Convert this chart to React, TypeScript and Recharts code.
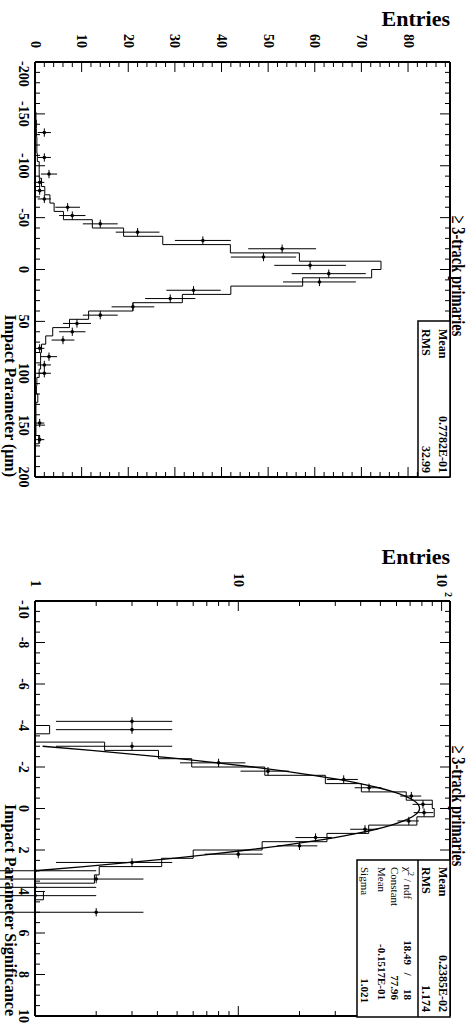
import { ComposedChart, ErrorBar, Line, Scatter, XAxis, YAxis } from 'recharts'

const FONT = '"Liberation Serif", "Times New Roman", serif'

// upper pad: impact parameter in um, 8 um bins over [-200, 200]
const IP_FIRST_EDGE = -200
const IP_LAST_EDGE = 200
const IP_BIN_WIDTH = 8
// reference histogram (step line), one value per bin
const IP_HIST = [
  0, 0, 0, 0, 0.1, 0.1, 0.2, 0.3, 0.3, 0.4,
  0.4, 0.5, 0.9, 0.9, 1.4, 2.1, 3.2, 4.1, 6.1, 12.3,
  19.0, 27.4, 41.9, 56.7, 74.2, 72.2, 57.4, 42.0, 31.6, 21.0,
  11.5, 7.4, 3.8, 2.3, 1.4, 1.2, 1.2, 0.9, 0.4, 0.3,
  0.6, 0.2, 0.2, 0.2, 0.2, 0.8, 0.1, 0.1, 0, 0,
]
// data points (bin centre, entries)
const IP_POINT_X = [-132, -108, -92, -84, -76, -68, -60, -52, -44, -36, -28, -20, -12, -4, 4, 12, 20, 28, 36, 44, 52, 60, 68, 76, 84, 92, 100, 148, 164]
const IP_POINT_N = [2, 2, 3, 1, 1, 2, 7, 8, 14, 22, 36, 53, 49, 59, 63, 61, 34, 29, 21, 14, 9, 8, 6, 1, 3, 2, 2, 1, 1]
const IP_TICKS = Array.from({ length: 41 }, (_, i) => -200 + i * 10)
const ENTRY_TICKS = Array.from({ length: 45 }, (_, i) => i * 2)

// lower pad: impact parameter significance, 0.4 bins over [-10, 10], log entries
const SIG_FIRST_EDGE = -10
const SIG_BIN_WIDTH = 0.4
const SIG_HIST = [
  0, 0, 0, 0, 0, 0, 0, 0, 0, 0,
  0, 0, 0, 0, 0, 1.18, 0, 2.2, 4.05, 5.9,
  13.5, 26.8, 40.3, 67, 90, 92, 75.6, 43.8, 27.3, 13.1,
  6.0, 4.2, 2.07, 1.96, 0, 1.1, 0, 0, 0, 0,
  0, 0, 0, 0, 0, 0, 0, 0, 0, 0,
]
const SIG_POINT_X = [-4.2, -3.8, -3.0, -2.2, -1.8, -1.4, -1.0, -0.6, -0.2, 0.2, 0.6, 1.0, 1.4, 1.8, 2.2, 2.6, 3.0, 3.4, 3.8, 4.2, 5.0]
const SIG_POINT_N = [3, 3, 3, 8, 14, 33, 44, 71, 81, 82, 69, 42, 24, 20, 10, 3, 1, 2, 1, 1, 2]
// gaussian fit curve as drawn
const FIT_X = [-3.0, -2.8, -2.6, -2.4, -2.2, -2.0, -1.8, -1.6, -1.4, -1.2, -1.0, -0.8, -0.6, -0.4, -0.2, 0, 0.2, 0.4, 0.6, 0.8, 1.0, 1.2, 1.4, 1.6, 1.8, 2.0, 2.2, 2.4, 2.6, 2.8, 3.0]
const FIT_Y = [1.09, 1.89, 3.16, 5.09, 7.9, 11.78, 16.91, 23.37, 31.07, 39.75, 48.95, 58.01, 66.16, 72.61, 76.69, 77.95, 76.25, 71.78, 65.03, 56.69, 47.56, 38.4, 29.85, 22.31, 16.06, 11.12, 7.41, 4.76, 2.93, 1.74, 1.0]
const SIG_TICKS = Array.from({ length: 41 }, (_, i) => -10 + i * 0.5)
const LOG_TICKS = [1, 2, 3, 4, 5, 6, 7, 8, 9, 10, 20, 30, 40, 50, 60, 70, 80, 90, 100]
const LOG_FLOOR = 1

const ipHistLine = [
  ...IP_HIST.map((n, i) => ({ x: IP_FIRST_EDGE + i * IP_BIN_WIDTH, y: n })),
  { x: IP_LAST_EDGE, y: IP_HIST[IP_HIST.length - 1] },
]
const ipPoints = IP_POINT_X.map((x, i) => ({
  x,
  y: IP_POINT_N[i],
  ex: IP_BIN_WIDTH / 2,
  ey: Math.sqrt(IP_POINT_N[i]),
}))

const sigHistLine = [
  ...SIG_HIST.map((n, i) => ({ x: SIG_FIRST_EDGE + i * SIG_BIN_WIDTH, y: Math.max(n, LOG_FLOOR) })),
  { x: 10, y: LOG_FLOOR },
]
const sigPoints = SIG_POINT_X.map((x, i) => {
  const n = SIG_POINT_N[i]
  const e = Math.sqrt(n)
  // log axis: keep the lower end positive, the frame clips it anyway
  return { x, y: n, ex: SIG_BIN_WIDTH / 2, ey: [Math.min(e, n - 0.001), e] }
})
const fitLine = FIT_X.map((x, i) => ({ x, y: FIT_Y[i] }))

const FRAME = { stroke: '#000', strokeWidth: 2 }
const LABEL = { fontFamily: FONT, fontWeight: 700, fontSize: 14 } as const

type TickArgs = { x?: number; y?: number; payload?: { value: number } }

// first label of the axis starts at its tick instead of hanging off the frame
function bottomTick(isMajor: (v: number) => boolean, first: number) {
  return ({ x = 0, y = 0, payload }: TickArgs) => {
    const v = payload?.value ?? 0
    const major = isMajor(v)
    const isFirst = Math.abs(v - first) < 1e-9
    return (
      <g>
        <line x1={x} x2={x} y1={y} y2={y - (major ? 10 : 5)} stroke="#000" />
        {major && (
          <text x={isFirst ? x - 1 : x} y={y + 16} textAnchor={isFirst ? 'start' : 'middle'} style={LABEL}>
            {Math.round(v)}
          </text>
        )}
      </g>
    )
  }
}

function topTick(isMajor: (v: number) => boolean) {
  return ({ x = 0, y = 0, payload }: TickArgs) => {
    const major = isMajor(payload?.value ?? 0)
    return <line x1={x} x2={x} y1={y} y2={y + (major ? 10 : 5)} stroke="#000" />
  }
}

function rightTick(isMajor: (v: number) => boolean) {
  return ({ x = 0, y = 0, payload }: TickArgs) => {
    const major = isMajor(payload?.value ?? 0)
    return <line x1={x} x2={x - (major ? 10 : 5)} y1={y} y2={y} stroke="#000" />
  }
}

function entriesTick({ x = 0, y = 0, payload }: TickArgs) {
  const v = payload?.value ?? 0
  const major = v % 10 === 0
  return (
    <g>
      <line x1={x} x2={x + (major ? 10 : 5)} y1={y} y2={y} stroke="#000" />
      {major && (
        <text x={x - 14} y={y} textAnchor="end" dominantBaseline="central" style={LABEL}>
          {v}
        </text>
      )}
    </g>
  )
}

const isDecade = (v: number) => v === 1 || v === 10 || v === 100

function logTick({ x = 0, y = 0, payload }: TickArgs) {
  const v = payload?.value ?? 0
  const major = isDecade(v)
  return (
    <g>
      <line x1={x} x2={x + (major ? 10 : 5)} y1={y} y2={y} stroke="#000" />
      {major && v < 100 && (
        <text x={x - 14} y={y} textAnchor="end" dominantBaseline="central" style={LABEL}>
          {v}
        </text>
      )}
      {v === 100 && (
        <g>
          <text x={x - 14} y={y} textAnchor="end" dominantBaseline="central" style={LABEL}>
            10
          </text>
          <text x={x - 9} y={y - 7} dominantBaseline="central" style={{ ...LABEL, fontSize: 10 }}>
            2
          </text>
        </g>
      )}
    </g>
  )
}

const Marker = (p: { cx?: number; cy?: number }) => <circle cx={p.cx} cy={p.cy} r={1.8} fill="#000" />

const txt = (size: number, weight = 700) => ({ fontFamily: FONT, fontWeight: weight, fontSize: size })

// pad title, drawn a little taller than wide like the original print
function PadTitle({ cx }: { cx: number }) {
  return (
    <g transform={`translate(${cx},18) scale(1,1.35)`}>
      <text x={0} y={0} textAnchor="middle" style={txt(14.5)}>≥ 3-track primaries</text>
    </g>
  )
}

// plot frame is inset by 1px axes on every side, margins are trimmed to match
function ImpactParameterPad() {
  const major = (v: number) => v % 50 === 0
  const majorY = (v: number) => v % 10 === 0
  return (
    <div style={{ position: 'absolute', left: 0, top: 0, width: 515, height: 470 }}>
      <ComposedChart width={515} height={470} margin={{ top: 19, right: 37, bottom: 34, left: 61 }}>
        <XAxis xAxisId="b" type="number" dataKey="x" domain={[-200, 200]} ticks={IP_TICKS} interval={0}
          height={1} tickSize={0} tickMargin={0} tickLine={false} axisLine={FRAME} tick={bottomTick(major, -200)} allowDataOverflow />
        <XAxis xAxisId="t" orientation="top" type="number" dataKey="x" domain={[-200, 200]} ticks={IP_TICKS} interval={0}
          height={1} tickSize={0} tickMargin={0} tickLine={false} axisLine={FRAME} tick={topTick(major)} allowDataOverflow />
        <YAxis yAxisId="l" type="number" dataKey="y" domain={[0, 89]} ticks={ENTRY_TICKS} interval={0}
          width={1} tickSize={0} tickMargin={0} tickLine={false} axisLine={FRAME} tick={entriesTick} allowDataOverflow />
        <YAxis yAxisId="r" orientation="right" type="number" dataKey="y" domain={[0, 89]} ticks={ENTRY_TICKS} interval={0}
          width={1} tickSize={0} tickMargin={0} tickLine={false} axisLine={FRAME} tick={rightTick(majorY)} allowDataOverflow />
        <Line xAxisId="b" yAxisId="l" data={ipHistLine} dataKey="y" type="stepAfter" stroke="#000" strokeWidth={1}
          dot={false} activeDot={false} isAnimationActive={false} />
        <Scatter xAxisId="b" yAxisId="l" data={ipPoints} dataKey="y" shape={Marker} isAnimationActive={false}>
          <ErrorBar dataKey="ey" direction="y" width={0} stroke="#000" strokeWidth={1} />
          <ErrorBar dataKey="ex" direction="x" width={0} stroke="#000" strokeWidth={1} />
        </Scatter>
      </ComposedChart>
      <svg width={515} height={470} style={{ position: 'absolute', left: 0, top: 0, overflow: 'visible' }}>
        <text transform="translate(26,20) rotate(-90)" textAnchor="end" style={txt(22)}>Entries</text>
        <PadTitle cx={276} />
        <rect x={321} y={20} width={156} height={32} fill="#fff" stroke="#000" strokeWidth={1.5} />
        <text x={329} y={31} style={txt(12)}>Mean</text>
        <text x={473} y={31} textAnchor="end" style={txt(12)}>0.7782E-01</text>
        <text x={329} y={48} style={txt(12)}>RMS</text>
        <text x={473} y={48} textAnchor="end" style={txt(12)}>32.99</text>
        <text x={477} y={465} textAnchor="end" style={txt(16)}>Impact Parameter (μm)</text>
      </svg>
    </div>
  )
}

function SignificancePad() {
  const major = (v: number) => Math.abs(v % 2) < 1e-9
  return (
    <div style={{ position: 'absolute', left: 515, top: 0, width: 512, height: 470 }}>
      <ComposedChart width={512} height={470} margin={{ top: 19, right: 10, bottom: 34, left: 85 }}>
        <XAxis xAxisId="b" type="number" dataKey="x" domain={[-10, 10]} ticks={SIG_TICKS} interval={0}
          height={1} tickSize={0} tickMargin={0} tickLine={false} axisLine={FRAME} tick={bottomTick(major, -10)} allowDataOverflow />
        <XAxis xAxisId="t" orientation="top" type="number" dataKey="x" domain={[-10, 10]} ticks={SIG_TICKS} interval={0}
          height={1} tickSize={0} tickMargin={0} tickLine={false} axisLine={FRAME} tick={topTick(major)} allowDataOverflow />
        <YAxis yAxisId="l" type="number" scale="log" dataKey="y" domain={[1, 110]} ticks={LOG_TICKS} interval={0}
          width={1} tickSize={0} tickMargin={0} tickLine={false} axisLine={FRAME} tick={logTick} allowDataOverflow />
        <YAxis yAxisId="r" orientation="right" type="number" scale="log" dataKey="y" domain={[1, 110]} ticks={LOG_TICKS} interval={0}
          width={1} tickSize={0} tickMargin={0} tickLine={false} axisLine={FRAME} tick={rightTick(isDecade)} allowDataOverflow />
        <Line xAxisId="b" yAxisId="l" data={sigHistLine} dataKey="y" type="stepAfter" stroke="#000" strokeWidth={1}
          dot={false} activeDot={false} isAnimationActive={false} />
        <Line xAxisId="b" yAxisId="l" data={fitLine} dataKey="y" type="monotone" stroke="#000" strokeWidth={1.3}
          dot={false} activeDot={false} isAnimationActive={false} />
        <Scatter xAxisId="b" yAxisId="l" data={sigPoints} dataKey="y" shape={Marker} isAnimationActive={false}>
          <ErrorBar dataKey="ey" direction="y" width={0} stroke="#000" strokeWidth={1} />
          <ErrorBar dataKey="ex" direction="x" width={0} stroke="#000" strokeWidth={1} />
        </Scatter>
      </ComposedChart>
      <svg width={512} height={470} style={{ position: 'absolute', left: 0, top: 0, overflow: 'visible' }}>
        <text transform="translate(49,20) rotate(-90)" textAnchor="end" style={txt(22)}>Entries</text>
        <PadTitle cx={291} />
        <rect x={345} y={20} width={157} height={93} fill="#fff" stroke="#000" strokeWidth={1.5} />
        <line x1={345} x2={502} y1={52} y2={52} stroke="#000" strokeWidth={1.5} />
        <text x={352} y={31} style={txt(12)}>Mean</text>
        <text x={497} y={31} textAnchor="end" style={txt(12)}>0.2385E-02</text>
        <text x={352} y={48} style={txt(12)}>RMS</text>
        <text x={497} y={48} textAnchor="end" style={txt(12)}>1.174</text>
        <text x={352} y={66} style={txt(11, 400)}>χ<tspan dy={-4} fontSize={8}>2</tspan><tspan dy={4}> / ndf</tspan></text>
        <text x={450} y={66} textAnchor="end" style={txt(11)}>18.49</text>
        <text x={459} y={66} textAnchor="middle" style={txt(11)}>/</text>
        <text x={485} y={66} textAnchor="end" style={txt(11)}>18</text>
        <text x={352} y={79} style={txt(11, 400)}>Constant</text>
        <text x={485} y={79} textAnchor="end" style={txt(11)}>77.96</text>
        <text x={352} y={92} style={txt(11, 400)}>Mean</text>
        <text x={485} y={92} textAnchor="end" style={txt(11)}>-0.1517E-01</text>
        <text x={352} y={109} style={txt(11, 400)}>Sigma</text>
        <text x={488} y={109} textAnchor="end" style={txt(11)}>1.021</text>
        <text x={501} y={465} textAnchor="end" style={txt(16)}>Impact Parameter Significance</text>
      </svg>
    </div>
  )
}

export default function App() {
  return (
    <div style={{ position: 'absolute', left: 0, top: 0, width: 470, height: 1027, overflow: 'hidden', background: '#fff' }}>
      <div
        style={{
          position: 'absolute',
          left: 0,
          top: 0,
          width: 1027,
          height: 470,
          transformOrigin: '0 0',
          transform: 'translate(470px, 0) rotate(90deg)',
        }}
      >
        <ImpactParameterPad />
        <SignificancePad />
      </div>
    </div>
  )
}
